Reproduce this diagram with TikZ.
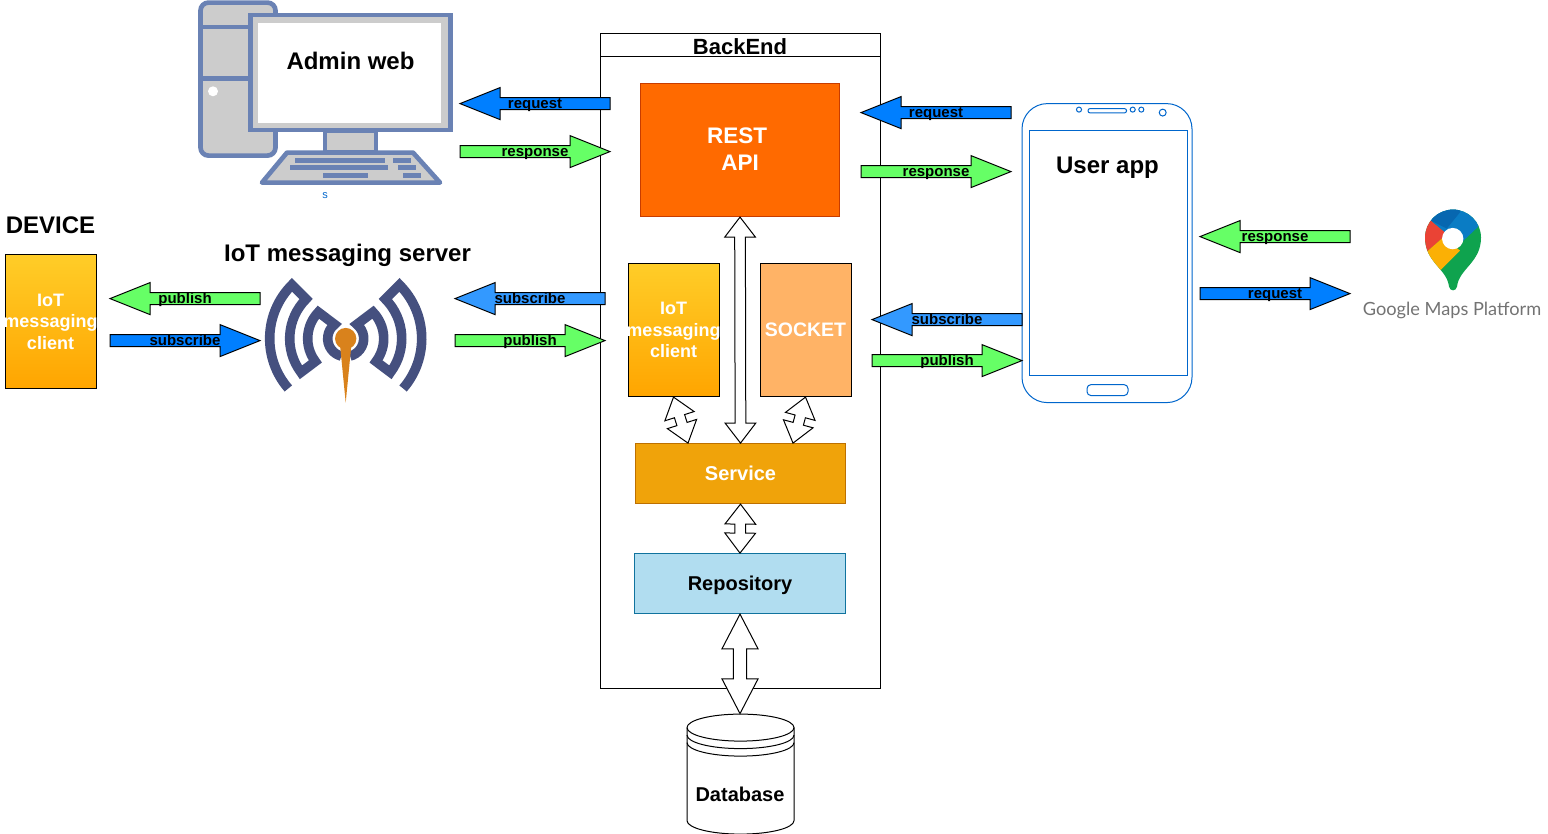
\documentclass[tikz,border=0pt]{standalone}
\usepackage{fontspec}
\usepackage{xcolor}
\setmainfont{Liberation Sans}
\newfontfamily\mapsfont{Lato}
\usepackage{tikz}
\usetikzlibrary{calc,positioning}

\definecolor{reqblue}{HTML}{007FFF}
\definecolor{subblue}{HTML}{3399FF}
\definecolor{resgreen}{HTML}{66FF66}
\definecolor{pcblue}{HTML}{6A82B4}
\definecolor{pcgray}{HTML}{CCCCCC}
\definecolor{wavenavy}{HTML}{45507F}
\definecolor{phoneblue}{HTML}{0066CC}
\definecolor{antenna}{HTML}{D9821C}
\definecolor{restfill}{HTML}{FF6A00}
\definecolor{restline}{HTML}{C73C00}
\definecolor{goldtop}{HTML}{FFCD28}
\definecolor{goldbot}{HTML}{FFA500}
\definecolor{socketfill}{HTML}{FFB366}
\definecolor{servicefill}{HTML}{F0A30A}
\definecolor{serviceline}{HTML}{BD7000}
\definecolor{repofill}{HTML}{B1DDF0}
\definecolor{repoline}{HTML}{10739E}
\definecolor{pinred}{HTML}{EA4335}
\definecolor{pinyellow}{HTML}{FBB005}
\definecolor{pingreen}{HTML}{0FA34E}
\definecolor{pinblue}{HTML}{0A7CC4}
\definecolor{pindark}{HTML}{0767B0}

% sizes are given in px of the drawing: 1px = .75pt
\newcommand{\pxfont}[1]{\pgfmathsetmacro\fsize{#1*.75}\pgfmathsetmacro\fskip{#1*.9}\fontsize{\fsize}{\fskip}\selectfont}

% one headed block arrow: tail, tip, half shaft, half head, head length, fill
\newcommand{\blockarrow}[6]{
    \draw[line width=.75pt,miter limit=10,fill=#6]
        (#1) -- ($(#1)!#3!90:(#2)$) -- ($(#2)!#5!(#1)!#3!-90:(#1)$)
        -- ($(#2)!#5!(#1)!#4!-90:(#1)$) -- (#2)
        -- ($(#2)!#5!(#1)!#4!90:(#1)$) -- ($(#2)!#5!(#1)!#3!90:(#1)$)
        -- ($(#1)!#3!-90:(#2)$) -- cycle;
}
% two headed block arrow
\newcommand{\dblarrow}[5]{
    \draw[line width=.75pt,fill=white]
        (#1) -- ($(#1)!#5!(#2)!#4!90:(#2)$) -- ($(#1)!#5!(#2)!#3!90:(#2)$)
        -- ($(#2)!#5!(#1)!#3!-90:(#1)$) -- ($(#2)!#5!(#1)!#4!-90:(#1)$) -- (#2)
        -- ($(#2)!#5!(#1)!#4!90:(#1)$) -- ($(#2)!#5!(#1)!#3!90:(#1)$)
        -- ($(#1)!#5!(#2)!#3!-90:(#2)$) -- ($(#1)!#5!(#2)!#4!-90:(#2)$) -- cycle;
}
% coloured arrow between two free ends, with its label in the middle
\newcommand{\flowarrow}[6]{
    \coordinate (#1tail) at (#2,#4);
    \coordinate (#1tip) at (#3,#4);
    \blockarrow{#1tail}{#1tip}{4.5pt}{12pt}{30pt}{#5}
    \node[flowlabel] (#1label) at ($(#1tail)!.5!(#1tip)+(0,4.5)$) {#6};
}

\tikzset{
    flowlabel/.style={inner sep=0pt,anchor=base,font=\pxfont{15}\bfseries},
    block/.style={draw,line width=.75pt,align=center,text=white,inner sep=0pt,
        font=\pxfont{20}\bfseries},
    pcpart/.style={draw=pcblue,line width=3.5pt,fill=pcgray},
    pckey/.style={fill=pcblue},
    phoneline/.style={draw=phoneblue,line width=.75pt},
    wave/.style={draw=wavenavy,line width=7.2pt,line join=miter,miter limit=10},
}

\begin{document}
\begin{tikzpicture}[x=.75pt,y=-.75pt]
    \useasboundingbox (0,-.6) rectangle (1548,833.4);

    % Backend frame
    \draw[line width=.75pt] (600,33) rectangle (880,688);
    \draw[line width=.75pt] (600,56) -- (880,56);
    \node[font=\pxfont{22}\bfseries,inner sep=0pt] (backend) at (740,46.5) {BackEnd};

    % Backend blocks
    \node[block,fill=restfill,draw=restline,minimum width=149.5pt,minimum height=99.75pt,
        font=\pxfont{22.5}\bfseries] (rest) at (740,149.5) {\raisebox{.75pt}{REST}\hspace*{4.5pt}\\\raisebox{.75pt}{API}};
    \node[block,top color=goldtop,bottom color=goldbot,minimum width=68.25pt,minimum height=99.75pt,
        font=\pxfont{18}\bfseries] (client) at (673.5,329.5) {IoT\\\makebox[0pt]{messaging}\\client};
    \node[block,fill=socketfill,minimum width=68.25pt,minimum height=99.75pt,
        font=\pxfont{19.5}\bfseries] (socket) at (805.5,329.5) {SOCKET};
    \node[block,fill=servicefill,draw=serviceline,minimum width=158pt,minimum height=45pt] (service) at (740.5,473) {Service};
    \node[block,text=black,fill=repofill,draw=repoline,minimum width=158pt,minimum height=45pt] (repository) at (740,583) {};
    \node[font=\pxfont{20}\bfseries,inner sep=0pt] (repotext) at (740,585) {Repository};

    % Database
    \draw[line width=.75pt,fill=white] (687,727) -- (687,820) arc[start angle=180,end angle=0,x radius=53.5,y radius=13.5]
        -- (794,727) arc[start angle=0,end angle=-180,x radius=53.5,y radius=13.5] -- cycle;
    \draw[line width=.75pt] (687,727) arc[start angle=180,end angle=0,x radius=53.5,y radius=13.5];
    \draw[line width=.75pt] (687,734.5) arc[start angle=180,end angle=0,x radius=53.5,y radius=13.5];
    \draw[line width=.75pt] (687,742) arc[start angle=180,end angle=0,x radius=53.5,y radius=13.5];
    \node[font=\pxfont{20}\bfseries,inner sep=0pt] (database) at (740,793.5) {Database};
    \coordinate (dbtop) at (740,713);
    \coordinate (clientend) at ($(service.north)+(-52.5,0)$);
    \coordinate (socketend) at ($(service.north)+(52.5,0)$);

    % Arrows inside the backend
    \dblarrow{rest.south}{service.north}{4pt}{11.5pt}{15pt}
    \dblarrow{client.south}{clientend}{4pt}{11.5pt}{15pt}
    \dblarrow{socket.south}{socketend}{4pt}{11.5pt}{15pt}
    \dblarrow{service.south}{repository.north}{4pt}{11.5pt}{15pt}
    \dblarrow{repository.south}{dbtop}{5pt}{13.5pt}{26pt}

    % Admin computer
    \draw[pcpart,rounded corners=6pt] (200.5,2) rectangle (275.5,155);
    \draw[draw=pcblue,line width=3.5pt] (200.5,26.5) -- (250,26.5);
    \draw[draw=pcblue,line width=3.5pt] (200.5,78) -- (250,78);
    \fill[white] (213,90.7) circle[radius=3.75pt];
    \draw[pcpart] (325,130) rectangle (376,152);
    \draw[pcpart] (250.5,14.5) rectangle (450.5,129.5);
    \fill[white] (258,22) rectangle (441,122);
    \draw[pcpart,line join=round] (287,152) -- (413,152) -- (440,182) -- (262,182) -- cycle;
    \foreach \xa/\xb/\ya in {295/385/157,393/411/157,290/388/164,398/416/164,323/368/172,403/421/172} {
        \fill[pckey] (\xa,\ya) rectangle (\xb,\ya+5);
    }
    \node[font=\pxfont{24}\bfseries,inner sep=0pt] (admin) at (350.5,60.5) {Admin web};
    \node[font=\pxfont{11},text=phoneblue,inner sep=0pt] (adminsub) at (325,195.5) {s};

    % Device
    \node[font=\pxfont{24}\bfseries,inner sep=0pt] (device) at (50.5,224.5) {DEVICE};
    \node[block,top color=goldtop,bottom color=goldbot,minimum width=68.25pt,minimum height=100pt,
        font=\pxfont{18}\bfseries] (deviceclient) at (50.5,321) {IoT\\\makebox[0pt]{messaging}\\client};

    % IoT messaging server
    \node[font=\pxfont{24}\bfseries,inner sep=0pt] (server) at (347.5,255) {IoT messaging server};
    \foreach \side in {1,-1} {
        \begin{scope}[shift={(345.7,338)},y=.75pt,xscale=\side]
            \draw[wave] (221:76) arc[start angle=221,end angle=135,radius=76] -- (135:56)
                arc[start angle=135,end angle=217,radius=56] -- (217:38)
                arc[start angle=217,end angle=136,radius=38] -- (128:18)
                arc[start angle=128,end angle=256,radius=18];
        \end{scope}
    }
    \fill[antenna] (345.7,338) circle[radius=8pt];
    \fill[antenna] (340,344) -- (351.4,344) -- (345.7,402) -- cycle;

    % User phone
    \draw[phoneline,fill=white,rounded corners=19pt] (1022,103) rectangle (1192,402);
    \draw[phoneline] (1029,130) rectangle (1187,375);
    \draw[phoneline,rounded corners=1.5pt] (1088,108) rectangle (1126.5,112.3);
    \draw[phoneline,rounded corners=3pt] (1087,384) rectangle (1128,395);
    \foreach \x in {1079,1132.7,1141.3} {
        \draw[phoneline] (\x,109) circle[radius=1.9pt];
    }
    \draw[phoneline] (1162.7,112) circle[radius=2.6pt];
    \node[font=\pxfont{24}\bfseries,inner sep=0pt] (user) at (1107.5,167) {User app};

    % Google maps pin
    \begin{scope}
        \clip (1425,237) arc[start angle=180,end angle=360,radius=28] .. controls (1481,262) and (1459,268) .. (1457,286)
            .. controls (1456,291) and (1450,291) .. (1449,286) .. controls (1447,268) and (1425,262) .. (1425,237) -- cycle;
        \fill[pingreen] (1420,205) rectangle (1485,295);
        \fill[pinred] (1431,220) -- (1445,231.7) -- (1443.3,236.7) -- (1427.3,250.7) -- (1415,250) -- (1415,215) -- cycle;
        \fill[pinyellow] (1427.3,250.7) -- (1443.3,236.7) -- (1460,250) -- (1440.7,269.3) -- (1420,275) -- cycle;
        \fill[pinblue] (1431,220) -- (1445,231.7) -- (1461.7,241.7) -- (1478.3,226) -- (1490,205) -- (1420,200) -- cycle;
        \fill[pindark] (1431,220) -- (1446.7,228) -- (1460,211.7) -- (1460,200) -- (1420,200) -- cycle;
    \end{scope}
    \fill[white] (1452.7,238) circle[radius=8pt];
    \node[font=\mapsfont\pxfont{18.2},text=black!55,inner sep=0pt] (maps) at (1452,309.5) {Google Maps Platform};

    % Flow arrows
    \flowarrow{adminreq}{610}{460}{103}{reqblue}{request}
    \flowarrow{adminres}{460}{610}{151}{resgreen}{response}
    \flowarrow{userreq}{1011}{861}{112}{reqblue}{request}
    \flowarrow{userres}{861}{1011}{171}{resgreen}{response}
    \flowarrow{mapsres}{1350}{1200}{236}{resgreen}{response}
    \flowarrow{mapsreq}{1200}{1350}{293}{reqblue}{request}
    \flowarrow{devpub}{260}{110}{298}{resgreen}{publish}
    \flowarrow{devsub}{110}{260}{340}{reqblue}{subscribe}
    \flowarrow{srvsub}{605}{455}{298}{subblue}{subscribe}
    \flowarrow{srvpub}{455}{605}{340}{resgreen}{publish}
    \flowarrow{usersub}{1022}{872}{319}{subblue}{subscribe}
    \flowarrow{userpub}{872}{1022}{360}{resgreen}{publish}
\end{tikzpicture}
\end{document}
